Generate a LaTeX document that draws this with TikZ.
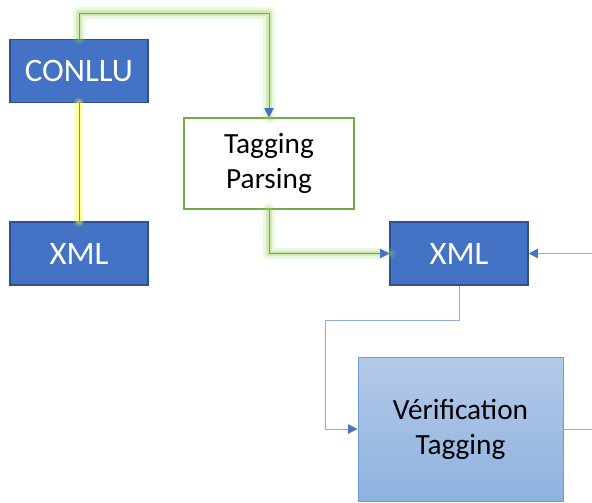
\documentclass[tikz,border=0pt]{standalone}
\usepackage{fontspec}
\setmainfont{Carlito}
\usetikzlibrary{arrows.meta}
\definecolor{boxblue}{HTML}{4472C4}
\definecolor{boxedge}{HTML}{2F528F}
\definecolor{tagedge}{HTML}{70AD47}
\definecolor{glowgreen}{HTML}{92D050}
\definecolor{glowyellow}{HTML}{FFFF40}
\definecolor{linkgrey}{HTML}{6F8FC0}
\definecolor{paleblue}{HTML}{8FAADC}
\definecolor{veriftop}{HTML}{B4C9E9}
\definecolor{verifbot}{HTML}{8EB2DF}
\definecolor{verifedge}{HTML}{6A9BD8}

\begin{document}
\begin{tikzpicture}[x=0.03cm, y=-0.03cm,
  fmt/.style={draw=boxedge, line width=1pt, fill=boxblue, text=white,
    minimum width=4.14cm, minimum height=1.89cm, inner sep=0pt,
    font=\fontsize{28}{33}\selectfont},
  tool/.style={draw=tagedge, line width=1pt, fill=white,
    minimum width=5.1cm, minimum height=2.73cm, align=center, inner sep=0pt,
    font=\fontsize{25}{30}\selectfont},
  check/.style={draw=verifedge, line width=0.8pt, top color=veriftop, bottom color=verifbot,
    minimum width=6.15cm, minimum height=4.32cm, align=center, inner sep=0pt,
    font=\fontsize{25}{30}\selectfont},
  link/.style={draw=linkgrey, line width=0.8pt},
  pale/.style={draw=paleblue, line width=0.8pt},
  tip/.style={-{Triangle[length=8pt, width=8pt, color=boxblue]}},
  glowG/.style={preaction={draw=glowgreen, line width=10pt, opacity=0.18, arrows=-,
    line join=round, line cap=round},
    preaction={draw=glowgreen, line width=5pt, opacity=0.3, arrows=-,
    line join=round, line cap=round}},
  glowY/.style={preaction={draw=glowyellow, line width=9pt, opacity=0.2, arrows=-,
    line cap=round},
    preaction={draw=glowyellow, line width=5pt, opacity=0.4, arrows=-,
    line cap=round}}]
  \useasboundingbox (0,0) rectangle (592,502);

  \node[fmt] (conllu) at (79,71) {CONLLU};
  \node[fmt] (xmlA) at (79,253.5) {XML};
  \node[tool] (tag) at (269,163.5) {Tagging\\Parsing};
  \node[fmt] (xmlB) at (459,253.5) {XML};
  \node[check] (verif) at (460.5,429) {Vérification\\Tagging};

  \coordinate (top) at (269,13);
  \coordinate (bend) at (325,320);
  \coordinate (feedin) at (592,253.5);
  \coordinate (feedout) at (592,429);

  \draw[link, glowG, tip] (conllu.north) |- (top) -- (tag.north);
  \draw[link, glowY] (conllu.south) -- (xmlA.north);
  \draw[link, glowG, tip] (tag.south) |- (xmlB.west);
  \draw[pale, tip] (feedin) -- (xmlB.east);
  \draw[pale, tip] (xmlB.south) |- (bend) |- (verif.west);
  \draw[pale] (verif.east) -- (feedout);
\end{tikzpicture}
\end{document}
